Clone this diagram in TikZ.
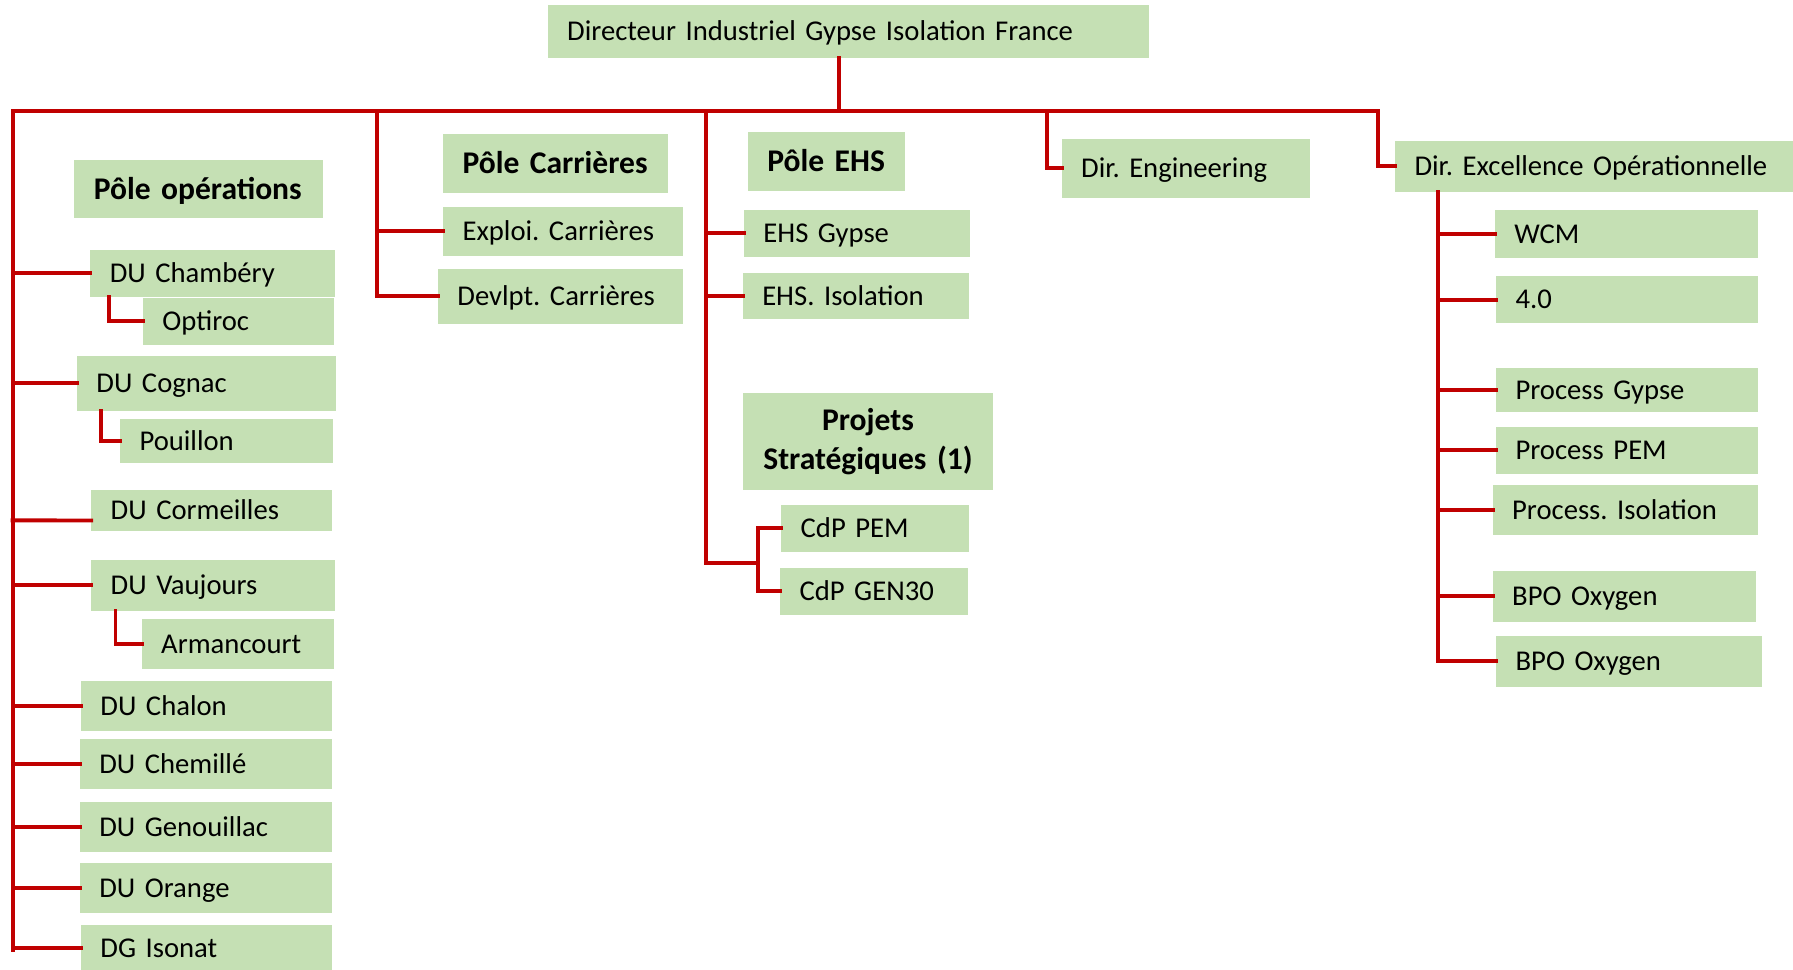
\documentclass[tikz,border=0pt]{standalone}
\usepackage{fontspec}
\setmainfont{Carlito}
\usetikzlibrary{calc}
\definecolor{boxgreen}{HTML}{C5E0B4}
\definecolor{linkred}{HTML}{C00000}
\frenchspacing
\tikzset{
  box/.style={fill=boxgreen, draw=none, inner xsep=12.75pt, inner ysep=0pt, outer sep=0pt,
    align=left, font=\fontsize{18.8}{22}\selectfont, text height=12.1pt, text depth=0pt},
  boldbox/.style={font=\fontsize{20.7}{24}\selectfont\bfseries, text height=13.3pt},
  link/.style={draw=linkred, line width=2.6pt, line cap=rect, line join=miter}
}
\newcommand\orgbox[7][]{%
  \pgfmathsetmacro\obw{(#5-#3)*0.75-25.5}%
  \pgfmathsetmacro\obh{(#6-#4)*0.75}%
  \node[box, #1, text width=\obw pt, minimum height=\obh pt, anchor=north west] (#2) at (#3,#4) {#7};}
\begin{document}
\begin{tikzpicture}[x=0.75pt,y=-0.75pt]
\useasboundingbox (0,0) rectangle (1568,848);
% boxes
\orgbox{top}{479}{4.5}{1005}{50.4}{Directeur Industriel Gypse Isolation France}
\orgbox[boldbox]{pops}{65}{140}{282.6}{191}{Pôle opérations}
\orgbox{chamb}{79}{218.6}{292.7}{259.4}{DU Chambéry}
\orgbox{optir}{125}{260.6}{291.7}{301.4}{Optiroc}
\orgbox{cogn}{67.3}{311.3}{294.2}{359}{DU Cognac}
\orgbox{pouil}{105}{366.6}{291.2}{404.7}{Pouillon}
\orgbox{corm}{79.8}{428.5}{290.2}{464.8}{DU Cormeilles}
\orgbox{vauj}{79.8}{489.7}{293.2}{534}{DU Vaujours}
\orgbox{arma}{124}{541.2}{291.7}{585}{Armancourt}
\orgbox{chal}{70.8}{595.5}{290.7}{639.1}{DU Chalon}
\orgbox{chem}{69.8}{646.4}{290.2}{689.6}{DU Chemillé}
\orgbox{geno}{69.8}{701.4}{290.2}{744.9}{DU Genouillac}
\orgbox{oran}{69.8}{754.6}{290.2}{798.2}{DU Orange}
\orgbox{ison}{70.8}{808.9}{290.7}{850}{DG Isonat}
\orgbox[boldbox]{pcarr}{387.5}{117.5}{583.8}{168.5}{Pôle Carrières}
\orgbox{expl}{387.5}{181}{597}{223.6}{Exploi. Carrières}
\orgbox{devl}{383}{235}{597}{283}{Devlpt. Carrières}
\orgbox[boldbox]{pehs}{654}{115.7}{791}{166.7}{Pôle EHS}
\orgbox{ehsg}{650.6}{183.6}{848}{224.5}{EHS Gypse}
\orgbox{ehsi}{649.6}{238.7}{847}{279.3}{EHS. Isolation}
\node[box, text height=, text depth=, align=center, font=\fontsize{20.7}{25.5}\selectfont\bfseries,
  text width=218.2*0.75pt-25.5pt, minimum height=84.4*0.75pt, anchor=north west] (proj) at (650,343.8)
  {Projets\\Stratégiques (1)};
\orgbox{cdpp}{683.2}{441.7}{847.3}{482.5}{CdP PEM}
\orgbox{cdpg}{682.2}{496.6}{846.3}{537.4}{CdP GEN30}
\orgbox{deng}{928.5}{121.6}{1146}{172.9}{Dir. Engineering}
\orgbox{dexc}{1220}{123.3}{1568}{167.6}{Dir. Excellence Opérationnelle}
\orgbox{wcm}{1307.4}{183.6}{1537}{225.3}{WCM}
\orgbox{four}{1308.4}{241.4}{1537.5}{282.8}{4.0}
\orgbox{pgyp}{1308.4}{322}{1537.5}{360}{Process Gypse}
\orgbox{ppem}{1308.4}{373.5}{1537.5}{414.3}{Process PEM}
\orgbox{piso}{1305.4}{424}{1537.5}{468.3}{Process. Isolation}
\orgbox{bpoa}{1305.4}{499.4}{1536}{543.7}{BPO Oxygen}
\orgbox{bpob}{1308.4}{556}{1540.5}{600.4}{BPO Oxygen}
% bus coordinates
\coordinate (trunk) at (734,97);
\coordinate (lbus) at (11,97);
\coordinate (lbusend) at (11,831);
\coordinate (cbus) at (330,97);
\coordinate (ebus) at (617,97);
\coordinate (cdpj) at (663,492);
\coordinate (gbus) at (915.5,97);
\coordinate (xbus) at (1205.3,97);
\coordinate (xsub) at (1257.6,167.6);
% connectors
\draw[link] (top.south -| trunk) -- (trunk);
\draw[link] (lbusend) -- (lbus) -- (xbus);
\foreach \n in {chamb,cogn,vauj,chal,chem,geno,oran,ison}
  \draw[link] (lbus |- \n.west) -- (\n.west);
\draw[link] (lbus |- corm.west) ++(0,8.5) -- ([yshift=-6.4pt]corm.west);
\draw[link] ([xshift=12.4pt]chamb.south west) |- (optir.west);
\draw[link] ([xshift=15.5pt]cogn.south west) |- (pouil.west);
\draw[link] ([xshift=15.9pt]vauj.south west) |- (arma.west);
\draw[link] (cbus) |- (devl.west);
\draw[link] (cbus |- expl.west) -- (expl.west);
\draw[link] (ebus) |- (cdpj);
\draw[link] (ebus |- ehsg.west) -- (ehsg.west);
\draw[link] (ebus |- ehsi.west) -- (ehsi.west);
\draw[link] (cdpp.west) -| (cdpj) |- (cdpg.west);
\draw[link] (gbus) |- (deng.west);
\draw[link] (xbus) |- (dexc.west);
\draw[link] (xsub) |- (bpob.west);
\foreach \n in {wcm,four,pgyp,ppem,piso,bpoa}
  \draw[link] (xsub |- \n.west) -- (\n.west);
\end{tikzpicture}
\end{document}
